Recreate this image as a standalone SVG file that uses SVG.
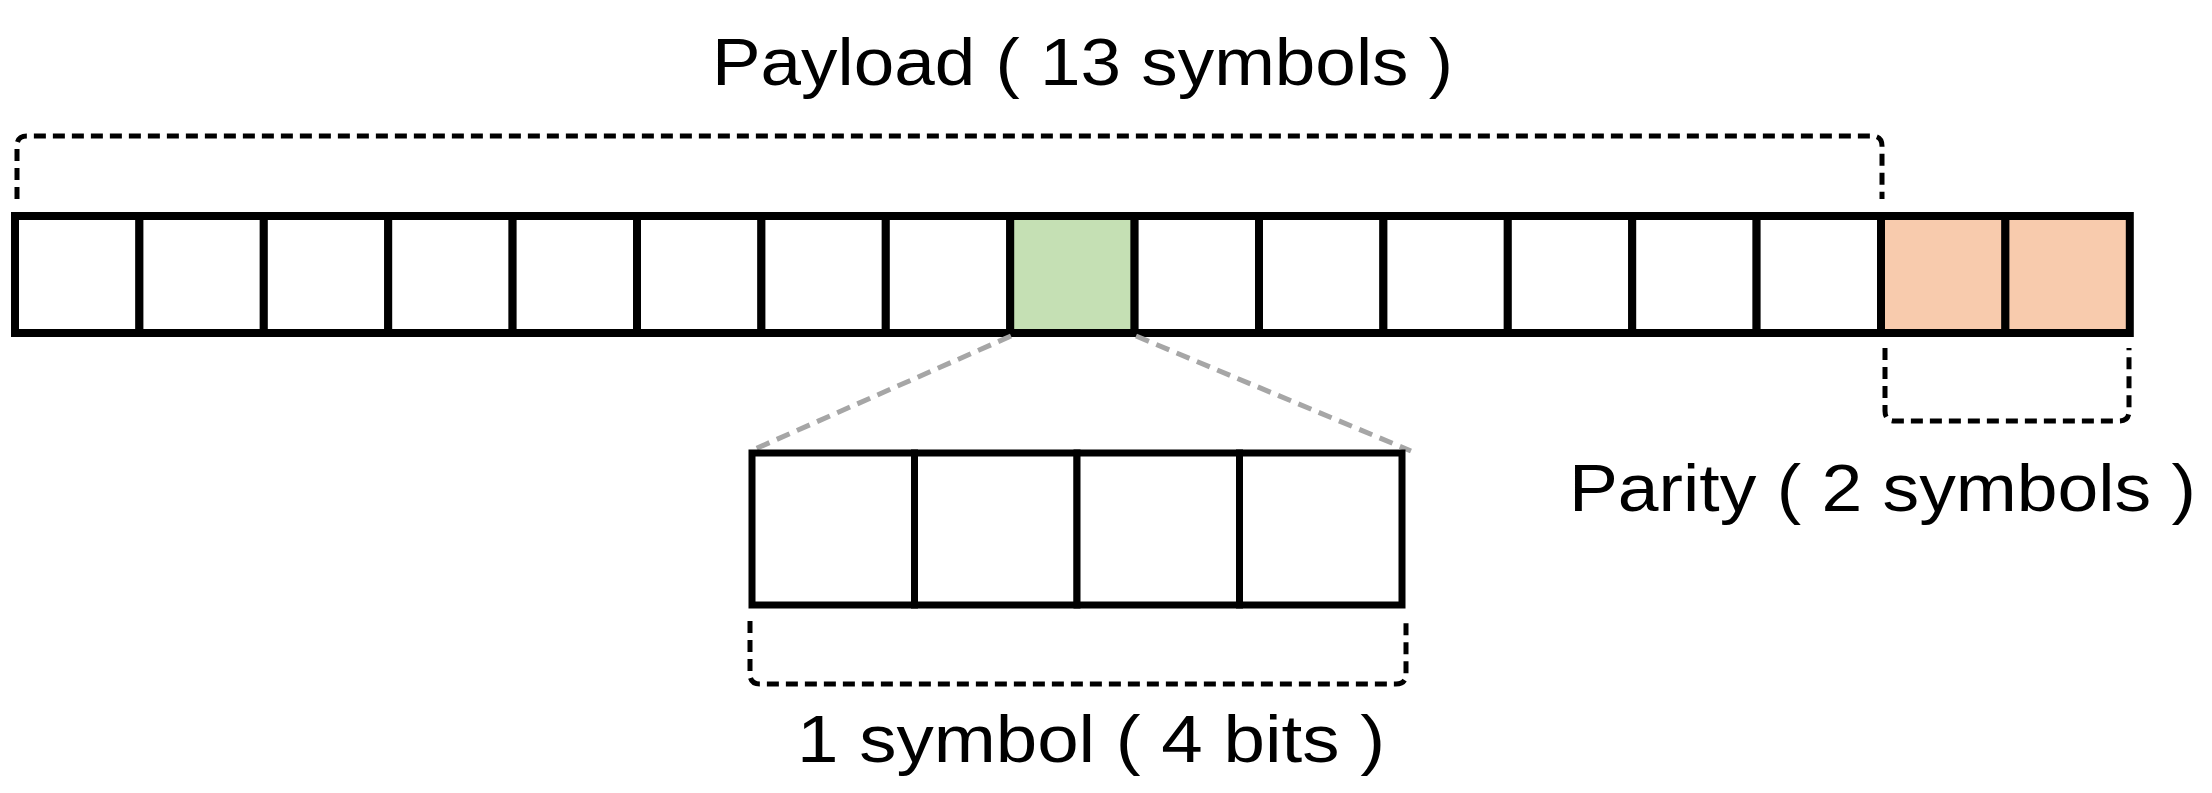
<svg xmlns="http://www.w3.org/2000/svg" width="2212" height="793" viewBox="0 0 2212 793">
<style>
.cell{fill:#fff;stroke:#000;stroke-width:8}
.bit{fill:#fff;stroke:#000;stroke-width:7}
.br{fill:none;stroke:#000;stroke-width:5;stroke-dasharray:12 7}
.zoom{stroke:#a6a6a6;stroke-width:5;stroke-dasharray:14 8}
text{font-family:"Liberation Sans",Arial,sans-serif;font-size:66px;fill:#000}
</style>
<rect width="2212" height="793" fill="#fff"/>
<g id="strip">
<rect class="cell" x="15" y="216" width="124.4" height="117"/>
<rect class="cell" x="139.4" y="216" width="124.4" height="117"/>
<rect class="cell" x="263.8" y="216" width="124.4" height="117"/>
<rect class="cell" x="388.2" y="216" width="124.4" height="117"/>
<rect class="cell" x="512.6" y="216" width="124.4" height="117"/>
<rect class="cell" x="637" y="216" width="124.4" height="117"/>
<rect class="cell" x="761.4" y="216" width="124.4" height="117"/>
<rect class="cell" x="885.8" y="216" width="124.4" height="117"/>
<rect class="cell" x="1010.2" y="216" width="124.4" height="117" style="fill:#c5e0b4"/>
<rect class="cell" x="1134.6" y="216" width="124.4" height="117"/>
<rect class="cell" x="1259" y="216" width="124.4" height="117"/>
<rect class="cell" x="1383.4" y="216" width="124.4" height="117"/>
<rect class="cell" x="1507.8" y="216" width="124.4" height="117"/>
<rect class="cell" x="1632.2" y="216" width="124.4" height="117"/>
<rect class="cell" x="1756.6" y="216" width="124.4" height="117"/>
<rect class="cell" x="1881" y="216" width="124.4" height="117" style="fill:#f8cbad"/>
<rect class="cell" x="2005.4" y="216" width="124.4" height="117" style="fill:#f8cbad"/>
</g>
<g id="connectors">
<line class="zoom" x1="1011" y1="336" x2="755" y2="449"/>
<line class="zoom" x1="1136" y1="336" x2="1411" y2="451"/>
</g>
<g id="symbol">
<rect class="bit" x="752" y="453" width="162.5" height="152"/>
<rect class="bit" x="914.5" y="453" width="162.5" height="152"/>
<rect class="bit" x="1077" y="453" width="162.5" height="152"/>
<rect class="bit" x="1239.5" y="453" width="162.5" height="152"/>
</g>
<g id="payload">
<path class="br" d="M17 199 V146 Q17 136 27 136 H1872 Q1882 136 1882 146 V199"/>
<text x="712" y="85" textLength="741" lengthAdjust="spacingAndGlyphs">Payload ( 13 symbols )</text>
</g>
<g id="parity">
<path class="br" d="M1885 348 V411 Q1885 421 1895 421 H2119 Q2129 421 2129 411 V348"/>
<text x="1569" y="511" textLength="627" lengthAdjust="spacingAndGlyphs">Parity ( 2 symbols )</text>
</g>
<g id="bits">
<path class="br" d="M750 621 V674 Q750 684 760 684 H1396 Q1406 684 1406 674 V621"/>
<text x="797" y="762" textLength="588" lengthAdjust="spacingAndGlyphs">1 symbol ( 4 bits )</text>
</g>
</svg>
